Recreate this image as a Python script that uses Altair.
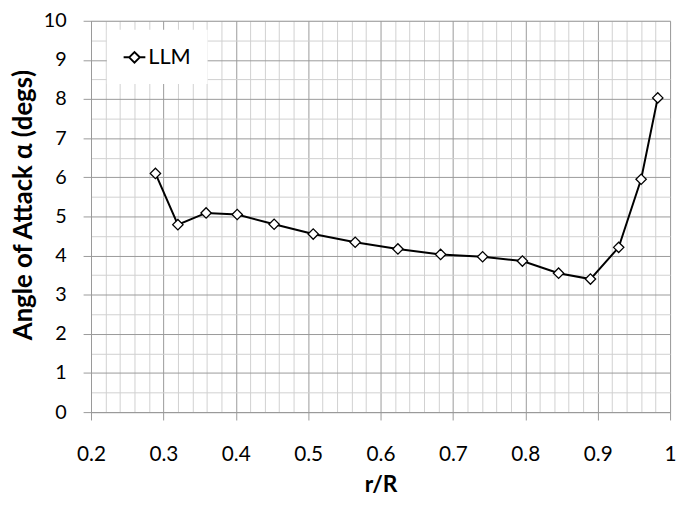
import altair as alt
import pandas as pd

# Data
r_over_R = [0.289, 0.320, 0.359, 0.402, 0.453, 0.507, 0.565, 0.624, 0.683,
            0.741, 0.796, 0.846, 0.890, 0.929, 0.960, 0.983]
alpha_deg = [6.10, 4.79, 5.09, 5.05, 4.80, 4.55, 4.34, 4.17, 4.03,
             3.97, 3.86, 3.55, 3.40, 4.21, 5.95, 8.03]
series_name = ["LLM"] * len(r_over_R)

x_grid_values = [round(0.2 + 0.02 * i, 2) for i in range(41)]
y_grid_values = [0.5 * i for i in range(21)]

df = pd.DataFrame({"r": r_over_R, "alpha": alpha_deg, "series": series_name})

FONT = "Lato"
MAJOR = "#999999"
MINOR = "#d0d0d0"

x_major_test = "abs(datum.value*10 - round(datum.value*10)) < 1e-6"
y_major_test = "datum.value % 1 == 0"

x_enc = alt.X(
    "r:Q",
    scale=alt.Scale(domain=[0.2, 1.0], nice=False, zero=False),
    axis=alt.Axis(
        title="r/R",
        values=x_grid_values,
        labelExpr=f"{x_major_test} ? format(datum.value, '~g') : ''",
        labelOverlap=False,
        labelFlush=False,
        labelFont=FONT,
        labelFontSize=21,
        labelColor="black",
        labelPadding=24,
        titleFont=FONT,
        titleFontSize=23,
        titleFontWeight="bold",
        titleColor="black",
        titleY=80,
        titleBaseline="alphabetic",
        domainColor=MAJOR,
        gridColor={"condition": {"test": x_major_test, "value": MAJOR}, "value": MINOR},
        tickColor=MAJOR,
        tickSize={"condition": {"test": x_major_test, "value": 8}, "value": 0},
    ),
)

y_enc = alt.Y(
    "alpha:Q",
    scale=alt.Scale(domain=[0, 10], nice=False),
    axis=alt.Axis(
        title="Angle of Attack α (degs)",
        values=y_grid_values,
        labelExpr=f"{y_major_test} ? format(datum.value, 'd') : ''",
        labelOverlap=False,
        labelFlush=False,
        labelFont=FONT,
        labelFontSize=20,
        labelColor="black",
        labelPadding=17,
        titleFont=FONT,
        titleFontSize=26,
        titleFontWeight="bold",
        titleColor="black",
        titleX=-55,
        titleY=186,
        titleBaseline="bottom",
        domainColor=MAJOR,
        gridColor={"condition": {"test": y_major_test, "value": MAJOR}, "value": MINOR},
        tickColor=MAJOR,
        tickSize={"condition": {"test": y_major_test, "value": 8}, "value": 0},
    ),
)

legend_path = "M-1,0L-0.49,0M0.49,0L1,0M-0.49,0L0,-0.49L0.49,0L0,0.49Z"

base = alt.Chart(df).encode(x=x_enc, y=y_enc)

line = base.mark_line(strokeWidth=2).encode(
    color=alt.Color(
        "series:N",
        scale=alt.Scale(range=["black"]),
        legend=alt.Legend(
            title=None,
            orient="none",
            legendX=16,
            legendY=9,
            padding=16,
            fillColor="white",
            symbolType=legend_path,
            symbolSize=484,
            symbolStrokeWidth=2,
            symbolStrokeColor="black",
            symbolFillColor="white",
            labelFont=FONT,
            labelFontSize=22,
            labelColor="black",
            labelOffset=2,
        ),
    ),
)

points = base.mark_point(
    shape="diamond", size=110, fill="white", stroke="black",
    strokeWidth=1.3, opacity=1, fillOpacity=1,
)

chart = (
    alt.layer(line, points)
    .properties(
        width=586,
        height=396,
        autosize=alt.AutoSizeParams(type="none"),
        padding={"left": 84, "top": 10, "right": 6, "bottom": 85},
    )
    .configure_view(stroke=MAJOR, strokeWidth=1)
    .configure(background="white")
)

chart.save("out.html", embed_options={"renderer": "svg", "actions": False})
